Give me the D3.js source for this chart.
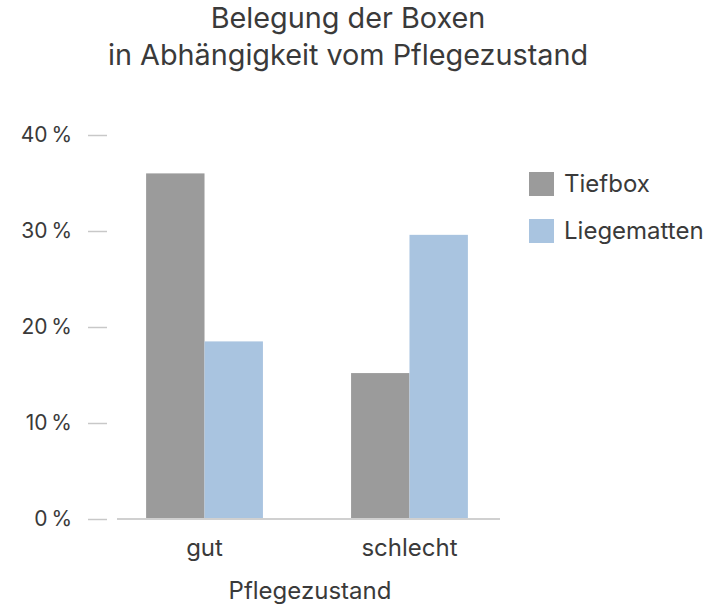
<!DOCTYPE html>
<meta charset="utf-8">
<script src="https://d3js.org/d3.v7.min.js"></script>
<style>
  body { margin: 0; background: white; }
  text { font-family: Inter, "Noto Sans", sans-serif; fill: #3a3a3a; }
</style>
<div id="chart"></div>
<script>
var categories = ["gut", "schlecht"];
var series = ["Tiefbox", "Liegematten"];
var tiefbox = [36.0, 15.2];
var liegematten = [18.5, 29.6];
var yTicks = [0, 10, 20, 30, 40];
var titleLines = ["Belegung der Boxen", "in Abhängigkeit vom Pflegezustand"];

var W = 714, H = 608;
var svg = d3.select("#chart").append("svg")
    .attr("width", W)
    .attr("height", H);

var color = d3.scaleOrdinal()
    .domain(series)
    .range(["#9b9b9b", "#a9c4e0"]);

// plot area
var plotLeft = 117, plotRight = 500, plotTop = 135, plotBottom = 519;

var x0 = d3.scaleBand()
    .domain(categories)
    .range([plotLeft, 497])
    .paddingInner(0.43)
    .paddingOuter(0.142);

var x1 = d3.scaleBand()
    .domain(series)
    .range([0, x0.bandwidth()]);

var y = d3.scaleLinear()
    .domain([0, 40])
    .range([plotBottom, plotTop]);

// title
svg.selectAll(".title")
  .data(titleLines)
  .enter()
  .append("text")
    .attr("x", 348)
    .attr("y", function(d, i) { return 28 + i * 37; })
    .attr("text-anchor", "middle")
    .style("font-size", "28.8px")
    .text(function(d) { return d; });

// y axis: labels + short tick dashes
var yAxis = svg.append("g")
    .attr("transform", "translate(107,0)")
    .call(d3.axisLeft(y).tickValues(yTicks).tickSize(19).tickPadding(16)
      .tickFormat(function(d) { return d + "\u2009%"; }));
yAxis.select(".domain").remove();
yAxis.selectAll("line").attr("stroke", "#c8c8c8").attr("stroke-width", 1.5);
yAxis.selectAll("text")
    .style("font-size", "21px")
    .style("font-family", "Inter, sans-serif")
    .attr("fill", "#3a3a3a");

// bars
var data = categories.map(function(c, i) {
  return { cat: c, values: [
    { key: "Tiefbox", value: tiefbox[i] },
    { key: "Liegematten", value: liegematten[i] }
  ] };
});

svg.selectAll(".group")
  .data(data)
  .enter()
  .append("g")
    .attr("transform", function(d) { return "translate(" + x0(d.cat) + ",0)"; })
  .selectAll("rect")
  .data(function(d) { return d.values; })
  .enter()
  .append("rect")
    .attr("x", function(d) { return x1(d.key); })
    .attr("y", function(d) { return y(d.value); })
    .attr("width", x1.bandwidth())
    .attr("height", function(d) { return plotBottom - y(d.value); })
    .attr("fill", function(d) { return color(d.key); });

// x axis baseline + labels
var xAxis = svg.append("g")
    .attr("transform", "translate(0," + plotBottom + ")")
    .call(d3.axisBottom(x0).tickSize(0).tickPadding(20));
xAxis.select(".domain")
    .attr("d", "M" + plotLeft + ",0H" + plotRight)
    .attr("stroke", "#d0d0d0").attr("stroke-width", 2);
xAxis.selectAll("text")
    .style("font-size", "24px")
    .style("font-family", "Inter, sans-serif")
    .attr("fill", "#3a3a3a");

svg.append("text")
    .attr("x", 310)
    .attr("y", 599)
    .attr("text-anchor", "middle")
    .style("font-size", "24px")
    .text("Pflegezustand");

// legend
var legend = svg.selectAll(".legend")
  .data(series)
  .enter()
  .append("g")
    .attr("transform", function(d, i) { return "translate(529," + (172 + i * 47) + ")"; });
legend.append("rect")
    .attr("width", 25)
    .attr("height", 24)
    .attr("fill", function(d) { return color(d); });
legend.append("text")
    .attr("x", 35)
    .attr("y", 12)
    .attr("dy", "0.35em")
    .style("font-size", "24px")
    .text(function(d) { return d; });
</script>
